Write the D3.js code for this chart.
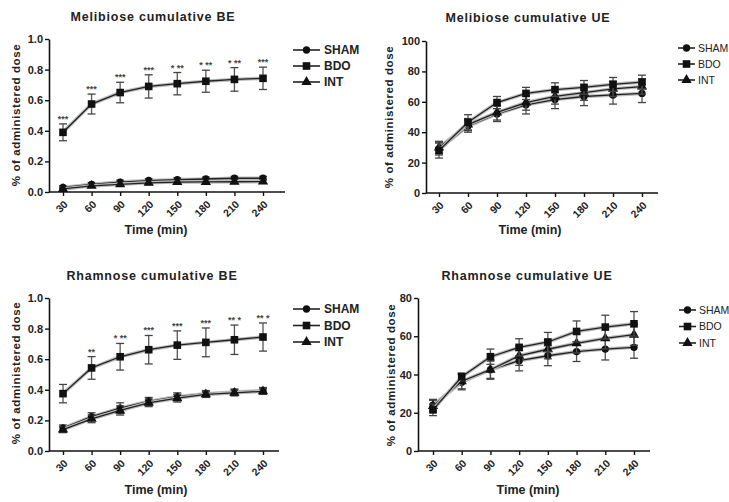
<!DOCTYPE html>
<html>
<head>
<meta charset="utf-8">
<script src="https://cdn.jsdelivr.net/npm/d3@7"></script>
<style>
  body { margin: 0; background: #fff; }
  svg { display: block; font-family: "Liberation Sans", Arial, sans-serif; }
</style>
</head>
<body>
<div id="chart"></div>
<script>
// Sampling times (min) and groups
const times = [30, 60, 90, 120, 150, 180, 210, 240]
const groups = ['SHAM', 'BDO', 'INT']

// Melibiose cumulative BE (fraction of dose)
const melBE_SHAM = [0.03, 0.05, 0.065, 0.075, 0.08, 0.085, 0.09, 0.09]
const melBE_SHAM_err = [0.01, 0.012, 0.012, 0.012, 0.012, 0.012, 0.012, 0.012]
const melBE_BDO = [0.39, 0.575, 0.65, 0.69, 0.708, 0.724, 0.736, 0.743]
const melBE_BDO_err = [0.055, 0.065, 0.067, 0.076, 0.073, 0.072, 0.077, 0.073]
const melBE_INT = [0.02, 0.04, 0.05, 0.06, 0.065, 0.066, 0.067, 0.068]
const melBE_INT_err = [0.01, 0.01, 0.012, 0.012, 0.012, 0.012, 0.012, 0.012]
const melBE_stars = ['***', '***', '***', '***', '* **', '* **', '* **', '***']

// Melibiose cumulative UE (% of dose)
const melUE_SHAM = [29, 44, 52, 58, 61.5, 63.5, 64.5, 65.5]
const melUE_SHAM_err = [4, 4, 5, 6, 6, 6, 6, 6]
const melUE_BDO = [28, 46.5, 59.5, 65.5, 68, 69.5, 71.5, 73]
const melUE_BDO_err = [5, 5, 4, 4, 4.5, 4.5, 4.5, 4.5]
const melUE_INT = [30, 45, 53, 59.5, 63.5, 66, 68.5, 70]
const melUE_INT_err = [4, 4, 5, 5, 5, 5, 5, 5]

// Rhamnose cumulative BE (fraction of dose)
const rhaBE_SHAM = [0.15, 0.225, 0.28, 0.325, 0.355, 0.375, 0.385, 0.395]
const rhaBE_SHAM_err = [0.02, 0.025, 0.035, 0.025, 0.025, 0.02, 0.02, 0.02]
const rhaBE_BDO = [0.375, 0.543, 0.616, 0.662, 0.692, 0.71, 0.727, 0.745]
const rhaBE_BDO_err = [0.06, 0.074, 0.087, 0.093, 0.093, 0.094, 0.096, 0.092]
const rhaBE_INT = [0.14, 0.21, 0.265, 0.315, 0.345, 0.37, 0.38, 0.39]
const rhaBE_INT_err = [0.02, 0.025, 0.03, 0.025, 0.025, 0.02, 0.02, 0.02]
const rhaBE_stars = ['', '**', '* **', '***', '***', '***', '** *', '** *']

// Rhamnose cumulative UE (% of dose)
const rhaUE_SHAM = [24, 36, 42.5, 47.2, 49.8, 52, 53.3, 54.2]
const rhaUE_SHAM_err = [3, 4, 5, 5.3, 5.2, 5.2, 5.7, 5.7]
const rhaUE_BDO = [21.5, 38.8, 49.3, 54.2, 57, 62.5, 64.8, 66.5]
const rhaUE_BDO_err = [3, 2, 4, 4.5, 5, 5.5, 6.2, 6.4]
const rhaUE_INT = [23.5, 36.5, 42.5, 49.8, 53.2, 56.3, 58.9, 60.8]
const rhaUE_INT_err = [3, 4, 4.5, 5, 5, 5, 5.5, 5.5]

// Axis ticks
const beTicks = [0, 0.2, 0.4, 0.6, 0.8, 1.0]
const melUETicks = [0, 20, 40, 60, 80, 100]
const rhaUETicks = [0, 20, 40, 60, 80]

const W = 729, H = 502

const svg = d3.select('#chart')
  .append('svg')
  .attr('width', W)
  .attr('height', H)

const symbolOf = {
  SHAM: d3.symbol().type(d3.symbolCircle).size(42),
  BDO: d3.symbol().type(d3.symbolSquare).size(58),
  INT: d3.symbol().type(d3.symbolTriangle).size(46)
}

const panels = [
  {
    title: 'Melibiose cumulative BE', titleX: 153, titleY: 21,
    axisX: 49, x0: 63, x1: 263, xEnd: 285, yBottom: 192, yTop: 39,
    yMax: 1.0, yTicks: beTicks, fmt: d3.format('.1f'),
    yLabelX: 20, yLabelY: 115, xLabelX: 156, xLabelY: 234,
    legX0: 293, legX1: 320, legTextX: 324, legY: 50, legStep: 16, legBold: true, legSize: 12,
    series: { SHAM: [melBE_SHAM, melBE_SHAM_err], BDO: [melBE_BDO, melBE_BDO_err], INT: [melBE_INT, melBE_INT_err] },
    stars: melBE_stars
  },
  {
    title: 'Melibiose cumulative UE', titleX: 528, titleY: 22,
    axisX: 426, x0: 439, x1: 642, xEnd: 658, yBottom: 193, yTop: 41,
    yMax: 100, yTicks: melUETicks, fmt: d3.format('d'),
    yLabelX: 393, yLabelY: 117, xLabelX: 530, xLabelY: 234,
    legX0: 678, legX1: 695, legTextX: 698, legY: 48, legStep: 16, legBold: false, legSize: 10.5,
    series: { SHAM: [melUE_SHAM, melUE_SHAM_err], BDO: [melUE_BDO, melUE_BDO_err], INT: [melUE_INT, melUE_INT_err] },
    stars: null
  },
  {
    title: 'Rhamnose cumulative BE', titleX: 152, titleY: 280,
    axisX: 49, x0: 63, x1: 263, xEnd: 279, yBottom: 451, yTop: 298,
    yMax: 1.0, yTicks: beTicks, fmt: d3.format('.1f'),
    yLabelX: 20, yLabelY: 373, xLabelX: 156, xLabelY: 494,
    legX0: 293, legX1: 320, legTextX: 324, legY: 309, legStep: 16.5, legBold: true, legSize: 12,
    series: { SHAM: [rhaBE_SHAM, rhaBE_SHAM_err], BDO: [rhaBE_BDO, rhaBE_BDO_err], INT: [rhaBE_INT, rhaBE_INT_err] },
    stars: rhaBE_stars
  },
  {
    title: 'Rhamnose cumulative UE', titleX: 527, titleY: 280,
    axisX: 418, x0: 433, x1: 634, xEnd: 650, yBottom: 451, yTop: 298,
    yMax: 80, yTicks: rhaUETicks, fmt: d3.format('d'),
    yLabelX: 395, yLabelY: 375, xLabelX: 528, xLabelY: 494,
    legX0: 679, legX1: 696, legTextX: 699, legY: 310, legStep: 16.5, legBold: false, legSize: 10.5,
    series: { SHAM: [rhaUE_SHAM, rhaUE_SHAM_err], BDO: [rhaUE_BDO, rhaUE_BDO_err], INT: [rhaUE_INT, rhaUE_INT_err] },
    stars: null
  }
]

panels.forEach(drawPanel)

function drawPanel(p) {
  const g = svg.append('g')

  const x = d3.scalePoint().domain(times).range([p.x0, p.x1])
  const y = d3.scaleLinear().domain([0, p.yMax]).range([p.yBottom, p.yTop])

  // Title
  g.append('text')
    .attr('x', p.titleX)
    .attr('y', p.titleY)
    .attr('text-anchor', 'middle')
    .attr('font-size', '12.5px')
    .attr('font-weight', 'bold')
    .attr('letter-spacing', '0.8px')
    .attr('fill', '#222')
    .text(p.title)

  // Y axis
  const yAxis = g.append('g')
    .attr('transform', `translate(${p.axisX},0)`)
    .call(d3.axisLeft(y).tickValues(p.yTicks).tickFormat(p.fmt).tickSize(4).tickPadding(2).tickSizeOuter(0))
  yAxis.select('.domain').attr('stroke', '#111').attr('stroke-width', 1.6)
  yAxis.selectAll('.tick line').attr('stroke', '#111').attr('stroke-width', 1.4)
  yAxis.selectAll('.tick text')
    .attr('font-size', '11px')
    .attr('font-weight', 'bold')
    .attr('fill', '#222')

  // X axis
  const xAxis = g.append('g')
    .attr('transform', `translate(0,${p.yBottom})`)
    .call(d3.axisBottom(x).tickSize(4).tickSizeOuter(0))
  xAxis.select('.domain').remove()
  xAxis.append('line')
    .attr('x1', p.axisX)
    .attr('x2', p.xEnd)
    .attr('stroke', '#111')
    .attr('stroke-width', 1.6)
  xAxis.selectAll('.tick line').attr('stroke', '#111').attr('stroke-width', 1.4)
  xAxis.selectAll('.tick text')
    .attr('x', 0)
    .attr('y', 0)
    .attr('dy', 0)
    .attr('text-anchor', 'end')
    .attr('transform', 'translate(5,13) rotate(-45)')
    .attr('font-size', '10.5px')
    .attr('font-weight', 'bold')
    .attr('fill', '#222')

  // Axis titles
  g.append('text')
    .attr('transform', `translate(${p.yLabelX},${p.yLabelY}) rotate(-90)`)
    .attr('text-anchor', 'middle')
    .attr('font-size', '11.5px')
    .attr('font-weight', 'bold')
    .attr('letter-spacing', '0.6px')
    .attr('fill', '#222')
    .text('% of administered dose')

  g.append('text')
    .attr('x', p.xLabelX)
    .attr('y', p.xLabelY)
    .attr('text-anchor', 'middle')
    .attr('font-size', '12.5px')
    .attr('font-weight', 'bold')
    .attr('fill', '#222')
    .text('Time (min)')

  // Series: SHAM and INT first, BDO on top
  const order = ['SHAM', 'INT', 'BDO']
  const line = d3.line().x(d => x(d.t)).y(d => y(d.v))

  order.forEach(name => {
    const [vals, errs] = p.series[name]
    const pts = times.map((t, i) => ({ t, v: vals[i], e: errs[i] }))
    const sg = g.append('g')

    // Error bars
    const eb = sg.selectAll('.eb').data(pts).enter().append('g')
    eb.append('line')
      .attr('x1', d => x(d.t)).attr('x2', d => x(d.t))
      .attr('y1', d => y(d.v - d.e)).attr('y2', d => y(d.v + d.e))
      .attr('stroke', '#555').attr('stroke-width', 1.3)
    eb.append('line')
      .attr('x1', d => x(d.t) - 4).attr('x2', d => x(d.t) + 4)
      .attr('y1', d => y(d.v + d.e)).attr('y2', d => y(d.v + d.e))
      .attr('stroke', '#444').attr('stroke-width', 1.3)
    eb.append('line')
      .attr('x1', d => x(d.t) - 4).attr('x2', d => x(d.t) + 4)
      .attr('y1', d => y(d.v - d.e)).attr('y2', d => y(d.v - d.e))
      .attr('stroke', '#444').attr('stroke-width', 1.3)

    // Line with soft halo
    sg.append('path')
      .attr('d', line(pts))
      .attr('fill', 'none')
      .attr('stroke', '#bbb')
      .attr('stroke-width', 3.5)
    sg.append('path')
      .attr('d', line(pts))
      .attr('fill', 'none')
      .attr('stroke', '#222')
      .attr('stroke-width', 1.3)

    // Markers
    sg.selectAll('.mk').data(pts).enter().append('path')
      .attr('d', symbolOf[name])
      .attr('transform', d => `translate(${x(d.t)},${y(d.v)})`)
      .attr('fill', '#111')

    // Significance marks above BDO
    if (name === 'BDO' && p.stars) {
      sg.selectAll('.st').data(pts).enter().append('text')
        .attr('x', d => x(d.t))
        .attr('y', d => y(d.v + d.e) - 2)
        .attr('text-anchor', 'middle')
        .attr('font-size', '9px')
        .attr('font-weight', 'bold')
        .attr('fill', '#444')
        .text((d, i) => p.stars[i])
    }
  })

  // Legend
  groups.forEach((name, i) => {
    const ly = p.legY + i * p.legStep
    g.append('line')
      .attr('x1', p.legX0).attr('x2', p.legX1)
      .attr('y1', ly).attr('y2', ly)
      .attr('stroke', '#222').attr('stroke-width', 1.6)
    g.append('path')
      .attr('d', symbolOf[name])
      .attr('transform', `translate(${(p.legX0 + p.legX1) / 2},${ly})`)
      .attr('fill', '#111')
    g.append('text')
      .attr('x', p.legTextX)
      .attr('y', ly)
      .attr('dy', '0.36em')
      .attr('font-size', `${p.legSize}px`)
      .attr('font-weight', p.legBold ? 'bold' : 'normal')
      .attr('fill', '#222')
      .text(name)
  })
}
</script>
</body>
</html>
